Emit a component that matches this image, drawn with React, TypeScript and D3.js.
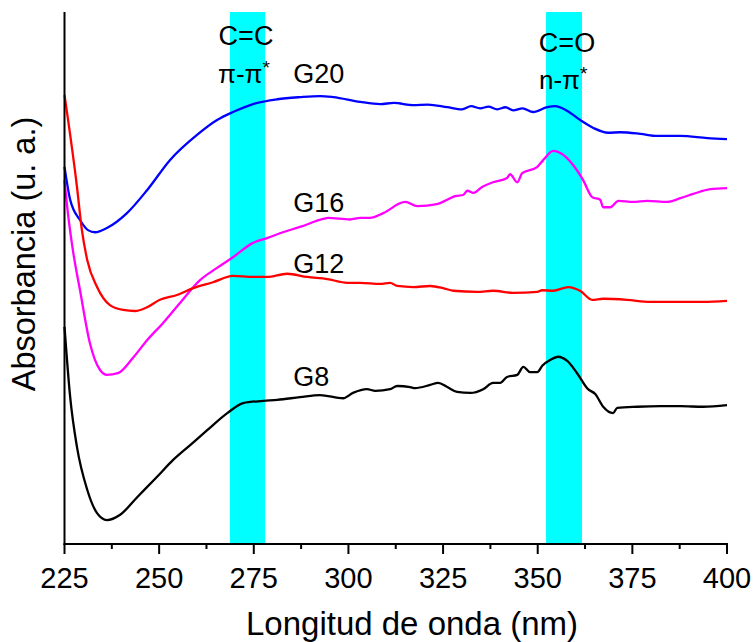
import React from "react";
import * as d3 from "d3";

// UV-Vis spectra (arbitrary absorbance units, offset per sample)
const g20Wavelength = [225, 226.5, 229.1, 231.2, 233.1, 236.2, 241.5, 246.8, 252.9, 260, 265.3, 269.5, 274.8, 281.2, 287.2, 292.5, 296, 303.1, 308.4, 312, 317.1, 321, 326.1, 330, 332.4, 334.8, 337, 339.3, 341.5, 343.5, 346, 348.8, 352.5, 354.6, 357.8, 361.2, 364.7, 368.6, 371.8, 377.1, 381.6, 387.7, 394.8, 400];
const g20Abs = [70.9, 64.7, 60.9, 59.0, 58.6, 59.4, 62.2, 66.5, 72.2, 76.9, 79.7, 81.2, 82.7, 83.6, 84.0, 84.2, 84.0, 83.1, 82.7, 82.9, 82.5, 82.6, 82.1, 81.7, 82.3, 81.9, 82.2, 81.7, 82.1, 81.5, 81.9, 81.2, 82.1, 82.3, 81.4, 79.7, 78.2, 77.3, 77.4, 77.1, 76.7, 76.7, 76.3, 76.1];

const g16Wavelength = [225, 225.9, 227.2, 229.1, 231.7, 234.4, 236.2, 239.1, 243.1, 246.8, 251, 255.5, 260.8, 265.3, 269.5, 274.8, 278.5, 282.7, 287.2, 293.3, 294.6, 300.4, 303.1, 305.7, 309.2, 315, 318.2, 323.4, 326.1, 328.2, 330.3, 331.4, 333, 335.3, 338.2, 341.9, 342.7, 344.6, 345.9, 349.9, 351.5, 354.1, 356, 359.4, 362, 364.4, 366.5, 367.3, 369.2, 371.3, 375.2, 378.9, 384.2, 387.7, 391.1, 395.6, 400];
const g16Abs = [68.4, 62.2, 55.3, 47.7, 37.8, 32.7, 31.8, 32.1, 35.0, 38.3, 41.5, 45.3, 49.6, 51.9, 53.9, 56.6, 57.5, 58.6, 59.6, 61.1, 61.3, 61.0, 61.3, 61.3, 62.2, 64.3, 63.5, 63.9, 64.7, 65.4, 65.6, 66.4, 66.0, 67.1, 68.0, 68.8, 69.5, 68.0, 69.7, 70.9, 72.2, 73.9, 73.5, 71.2, 68.4, 65.2, 64.7, 63.3, 63.3, 64.5, 64.3, 64.5, 64.3, 65.0, 65.8, 66.7, 66.9];

const g12Wavelength = [225, 228.3, 229.6, 231, 233.6, 237, 240.5, 243.6, 246.8, 250.2, 254.7, 259, 264.2, 269.5, 274.8, 278.5, 283.8, 289.1, 294.4, 299.7, 303.1, 308.4, 311, 312.9, 317.1, 321.6, 325, 327.7, 334, 338.2, 343.5, 349.9, 351.2, 354.1, 358.1, 361.2, 364.4, 367.3, 373.6, 379.7, 386.9, 393.7, 400];
const g12Abs = [84.4, 67.1, 59.0, 53.4, 48.3, 44.9, 44.0, 43.8, 44.5, 45.9, 46.8, 48.1, 49.2, 50.4, 50.2, 50.2, 50.8, 50.2, 49.8, 49.1, 49.1, 48.9, 49.1, 48.5, 48.3, 48.5, 48.1, 47.6, 47.4, 47.6, 47.2, 47.4, 47.7, 47.6, 48.3, 47.6, 45.9, 46.1, 45.9, 45.5, 45.5, 45.5, 45.7];

const g8Wavelength = [225, 226.5, 228.3, 231, 233.6, 236.2, 239.7, 244.2, 249.4, 253.7, 258.2, 262.7, 268, 272.2, 277.5, 281.2, 287.2, 292.5, 298.6, 301.2, 304.9, 307.1, 311, 312.9, 316.3, 317.6, 321.6, 323.7, 326.1, 328.7, 332.2, 335.6, 338.2, 340.1, 341.9, 344.6, 346.2, 348, 349.9, 351.2, 353.3, 355.4, 357.8, 360.4, 363.3, 365.2, 367.3, 369.9, 371, 376.3, 382.4, 387.7, 393.7, 400];
const g8Abs = [40.8, 27.6, 18.2, 10.2, 5.8, 4.5, 5.5, 8.8, 12.6, 15.8, 18.6, 21.4, 24.6, 26.5, 26.9, 27.1, 27.6, 28.0, 27.4, 28.4, 29.1, 28.8, 29.1, 29.7, 29.5, 29.3, 29.9, 30.3, 29.5, 28.6, 28.4, 29.1, 30.3, 30.3, 31.4, 31.8, 33.3, 32.3, 32.3, 33.5, 34.6, 35.2, 34.4, 32.1, 29.1, 28.2, 25.8, 24.6, 25.6, 25.8, 25.9, 25.9, 25.8, 26.1];

// Transition bands (nm)
const bandStarts = [268.7, 352.2];
const bandEnds = [278, 361.7];
const bandTitles = ["C=C", "C=O"];
const bandTransitions = ["π-π", "n-π"];

const sampleNames = ["G20", "G16", "G12", "G8"];
const sampleColors = ["#0000ff", "#ff00ff", "#ff0000", "#000000"];

const xTicks = [225, 250, 275, 300, 325, 350, 375, 400];
const xMinorTicks = [237.5, 262.5, 287.5, 312.5, 337.5, 362.5, 387.5];

const W = 756;
const H = 642;
const left = 64.5;
const right = 727;
const top = 12;
const bottom = 544;
const FONT = "'Liberation Sans', Arial, Helvetica, sans-serif";

export default function App() {
  const x = d3.scaleLinear().domain([225, 400]).range([left, right]);
  const y = d3.scaleLinear().domain([0, 100]).range([bottom, top]);

  const series = [
    { wl: g20Wavelength, ab: g20Abs },
    { wl: g16Wavelength, ab: g16Abs },
    { wl: g12Wavelength, ab: g12Abs },
    { wl: g8Wavelength, ab: g8Abs },
  ];

  const line = d3
    .line<[number, number]>()
    .x((d) => x(d[0]))
    .y((d) => y(d[1]))
    .curve(d3.curveMonotoneX);

  // label anchors: wavelength and absorbance of the text baseline
  const labelWl = 285.4;
  const labelAbs = [86.7, 62.4, 50.9, 29.7];

  return (
    <svg
      width={W}
      height={H}
      style={{ position: "absolute", left: 0, top: 0, background: "#fff" }}
      fontFamily={FONT}
    >
      <rect x={0} y={0} width={W} height={H} fill="#fff" />
      {bandStarts.map((s, i) => (
        <rect
          key={"band" + i}
          x={x(s)}
          y={top}
          width={x(bandEnds[i]) - x(s)}
          height={bottom - top}
          fill="#00ffff"
        />
      ))}

      {series.map((s, i) => (
        <path
          key={sampleNames[i]}
          d={line(s.wl.map((w, j) => [w, s.ab[j]] as [number, number])) || ""}
          fill="none"
          stroke={sampleColors[i]}
          strokeWidth={2.3}
          strokeLinejoin="round"
        />
      ))}

      {/* axes */}
      <line x1={left} y1={top} x2={left} y2={bottom + 1} stroke="#000" strokeWidth={2} />
      <line x1={left - 1} y1={bottom} x2={right + 1} y2={bottom} stroke="#000" strokeWidth={2} />
      {xTicks.map((t) => (
        <g key={"t" + t}>
          <line x1={x(t)} y1={bottom} x2={x(t)} y2={bottom + 10} stroke="#000" strokeWidth={2} />
          <text x={x(t)} y={588} textAnchor="middle" fontSize={29} fill="#000">
            {t}
          </text>
        </g>
      ))}
      {xMinorTicks.map((t) => (
        <line key={"m" + t} x1={x(t)} y1={bottom} x2={x(t)} y2={bottom + 5} stroke="#000" strokeWidth={2} />
      ))}

      <text x={412} y={635} textAnchor="middle" fontSize={33} fill="#000">
        Longitud de onda (nm)
      </text>
      <text
        transform={`translate(35, 254) rotate(-90)`}
        textAnchor="middle"
        fontSize={32.5}
        fill="#000"
      >
        Absorbancia (u. a.)
      </text>

      {/* band annotations */}
      <text x={246} y={45} textAnchor="middle" fontSize={27} fill="#000">
        {bandTitles[0]}
      </text>
      <text x={218} y={83} fontSize={26} fill="#000">
        {bandTransitions[0]}
        <tspan dy={-9} fontSize={19}>*</tspan>
      </text>
      <text x={567} y={52} textAnchor="middle" fontSize={27} fill="#000">
        {bandTitles[1]}
      </text>
      <text x={539} y={89} fontSize={26} fill="#000">
        {bandTransitions[1]}
        <tspan dy={-9} fontSize={19}>*</tspan>
      </text>

      {sampleNames.map((n, i) => (
        <text key={"lbl" + n} x={x(labelWl)} y={y(labelAbs[i])} fontSize={27} fill="#000">
          {n}
        </text>
      ))}
    </svg>
  );
}
